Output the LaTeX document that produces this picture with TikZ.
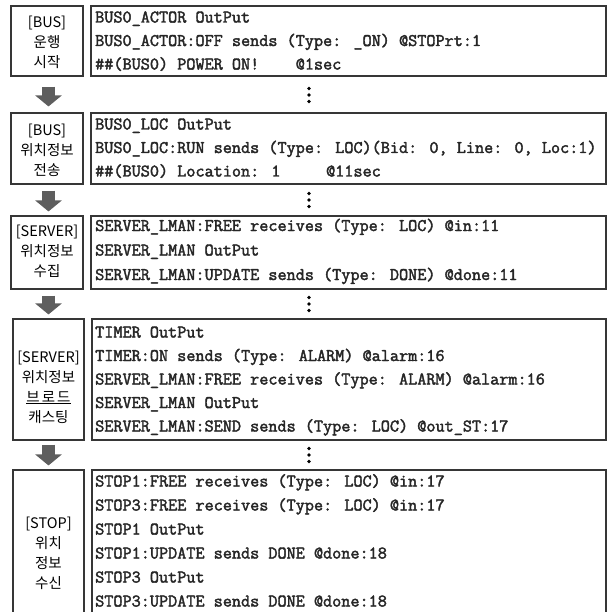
\documentclass[tikz,border=0pt]{standalone}
\usepackage{fontspec}
\newfontfamily\kfont{Noto Sans CJK KR}
\newfontfamily\courfont{Latin Modern Mono}[FakeBold=2.2]
\usetikzlibrary{arrows.meta}
\definecolor{boxgray}{HTML}{363636}
\definecolor{arrowgray}{HTML}{5E5E5E}
\begin{document}
\begin{tikzpicture}[x=1pt,y=-1pt,
  box/.style={draw=boxgray, line width=1.1pt, inner sep=0pt},
  lbl/.style={font=\kfont\fontsize{14.5}{20}\selectfont, align=center, inner sep=0pt},
  mono/.style={font=\courfont\fontsize{17.7}{18}\selectfont, text=black!85, anchor=base west, inner sep=0pt},
  blockarrow/.style={draw=arrowgray, line width=13pt, -{Triangle[length=11pt,width=26pt]}},
  vdot/.style={circle, fill=black, inner sep=0pt, minimum size=3.6pt}
]
\useasboundingbox[fill=white] (0,0) rectangle (611,612);

% left boxes
\node[box, minimum width=72pt, minimum height=70pt] (l1) at (47,41) {};
\node[box, minimum width=72pt, minimum height=71pt] (l2) at (47,148.5) {};
\node[box, minimum width=72pt, minimum height=73pt] (l3) at (47,252.5) {};
\node[box, minimum width=71pt, minimum height=121pt] (l4) at (48.5,379.5) {};
\node[box, minimum width=71pt, minimum height=170pt] (l5) at (48.5,555) {};

% right boxes
\node[box, minimum width=515pt, minimum height=70pt] (r1) at (348.5,41) {};
\node[box, minimum width=515pt, minimum height=71pt] (r2) at (348.5,148.5) {};
\node[box, minimum width=515pt, minimum height=73pt] (r3) at (348.5,252.5) {};
\node[box, minimum width=514pt, minimum height=121pt] (r4) at (349,379.5) {};
\node[box, minimum width=514pt, minimum height=170pt] (r5) at (349,555) {};

% left labels
\node[lbl] (k1) at (47,42) {[BUS]\\운행\\시작};
\node[lbl] (k2) at (47,150) {[BUS]\\위치정보\\전송};
\node[lbl] (k3) at (47,251) {[SERVER]\\위치정보\\수집};
\node[lbl] (k4) at (48.5,387) {[SERVER]\\위치정보\\\underline{브\hspace{2pt}로\hspace{2pt}드}\\캐스팅};
\node[lbl] (k5) at (48.5,553) {[STOP]\\위치\\정보\\수신};

% block arrows
\draw[blockarrow] ([xshift=1.5pt,yshift=-10pt]l1.south) -- ([xshift=1.5pt,yshift=6pt]l2.north);
\draw[blockarrow] ([xshift=1.5pt,yshift=-6pt]l2.south) -- ([xshift=1.5pt,yshift=4pt]l3.north);
\draw[blockarrow] ([xshift=1.5pt,yshift=-6pt]l3.south) -- ([xshift=0pt,yshift=4pt]l4.north);
\draw[blockarrow] ([xshift=0pt,yshift=-4pt]l4.south) -- ([xshift=0pt,yshift=4pt]l5.north);

% vertical ellipses
\foreach \n/\yy in {a/95, b/200, c/304, d/455} {
  \node[vdot] (d\n1) at (309,\yy-6.5) {};
  \node[vdot] (d\n2) at (309,\yy) {};
  \node[vdot] (d\n3) at (309,\yy+6.5) {};
}

% box 1 text
\node[mono] (t11) at (95,22.5) {BUS0\_ACTOR OutPut};
\node[mono] (t12) at (95,46) {BUS0\_ACTOR:OFF sends (Type: \_ON) @STOPrt:1};
\node[mono] (t13) at (95,69.5) {\#\#(BUS0) POWER ON!\ \ \ \ @1sec};
% box 2 text
\node[mono] (t21) at (95,129.5) {BUS0\_LOC OutPut};
\node[mono] (t22) at (95,153) {BUS0\_LOC:RUN sends (Type: LOC)(Bid: 0, Line: 0, Loc:1)};
\node[mono] (t23) at (95,176.5) {\#\#(BUS0) Location: 1\ \ \ \ \ @11sec};
% box 3 text
\node[mono] (t31) at (95,231) {SERVER\_LMAN:FREE receives (Type: LOC) @in:11};
\node[mono] (t32) at (95,255.5) {SERVER\_LMAN OutPut};
\node[mono] (t33) at (95,280) {SERVER\_LMAN:UPDATE sends (Type: DONE) @done:11};
% box 4 text
\node[mono] (t41) at (95,337.5) {TIMER OutPut};
\node[mono] (t42) at (95,361) {TIMER:ON sends (Type: ALARM) @alarm:16};
\node[mono] (t43) at (95,384.5) {SERVER\_LMAN:FREE receives (Type: ALARM) @alarm:16};
\node[mono] (t44) at (95,408) {SERVER\_LMAN OutPut};
\node[mono] (t45) at (95,431.5) {SERVER\_LMAN:SEND sends (Type: LOC) @out\_ST:17};
% box 5 text
\node[mono] (t51) at (95,486.5) {STOP1:FREE receives (Type: LOC) @in:17};
\node[mono] (t52) at (95,510.5) {STOP3:FREE receives (Type: LOC) @in:17};
\node[mono] (t53) at (95,534.5) {STOP1 OutPut};
\node[mono] (t54) at (95,558.5) {STOP1:UPDATE sends DONE @done:18};
\node[mono] (t55) at (95,582.5) {STOP3 OutPut};
\node[mono] (t56) at (95,606.5) {STOP3:UPDATE sends DONE @done:18};
\end{tikzpicture}
\end{document}
